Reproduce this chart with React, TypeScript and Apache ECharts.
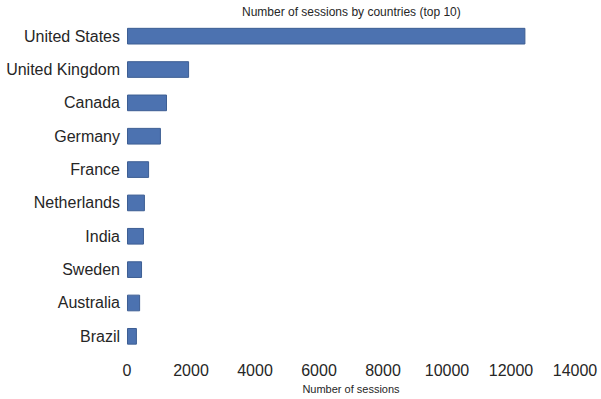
import React, { useEffect, useRef } from "react";
import * as echarts from "echarts";

const countries = [
  "United States",
  "United Kingdom",
  "Canada",
  "Germany",
  "France",
  "Netherlands",
  "India",
  "Sweden",
  "Australia",
  "Brazil",
];
const sessions = [12450, 1940, 1250, 1060, 690, 560, 530, 470, 410, 310];
const xTicks = { min: 0, max: 14000, interval: 2000 };

export default function App() {
  const ref = useRef<HTMLDivElement>(null);
  useEffect(() => {
    if (!ref.current) return;
    const chart = echarts.init(ref.current, undefined, { renderer: "svg" });
    const font = "'Liberation Sans', Arial, sans-serif";
    chart.setOption({
      animation: false,
      backgroundColor: "#ffffff",
      graphic: [
        {
          type: "text",
          left: 242,
          top: 6,
          style: {
            text: "Number of sessions by countries (top 10)",
            fontSize: 12,
            fill: "#262626",
            fontFamily: font,
          },
        },
      ],
      grid: { left: 127, right: 26, top: 19.5, height: 335, containLabel: false },
      xAxis: {
        type: "value",
        min: xTicks.min,
        max: xTicks.max,
        interval: xTicks.interval,
        axisLine: { show: false },
        axisTick: { show: false },
        splitLine: { show: false },
        axisLabel: {
          fontSize: 16,
          color: "#262626",
          margin: 9,
          fontFamily: font,
          formatter: (v: number) => String(v),
        },
        name: "Number of sessions",
        nameLocation: "middle",
        nameGap: 30,
        nameTextStyle: { fontSize: 11, color: "#262626", fontFamily: font },
      },
      yAxis: {
        type: "category",
        data: countries,
        inverse: true,
        axisLine: { show: false },
        axisTick: { show: false },
        splitLine: { show: false },
        axisLabel: { fontSize: 16, color: "#262626", margin: 7, fontFamily: font },
      },
      series: [
        {
          type: "bar",
          data: sessions,
          barWidth: "50%",
          itemStyle: { color: "#4C72B0", borderColor: "#3D5E93", borderWidth: 1 },
        },
      ],
    });
    return () => chart.dispose();
  }, []);
  return <div ref={ref} style={{ width: 601, height: 399, position: "absolute", left: 0, top: 0 }} />;
}
